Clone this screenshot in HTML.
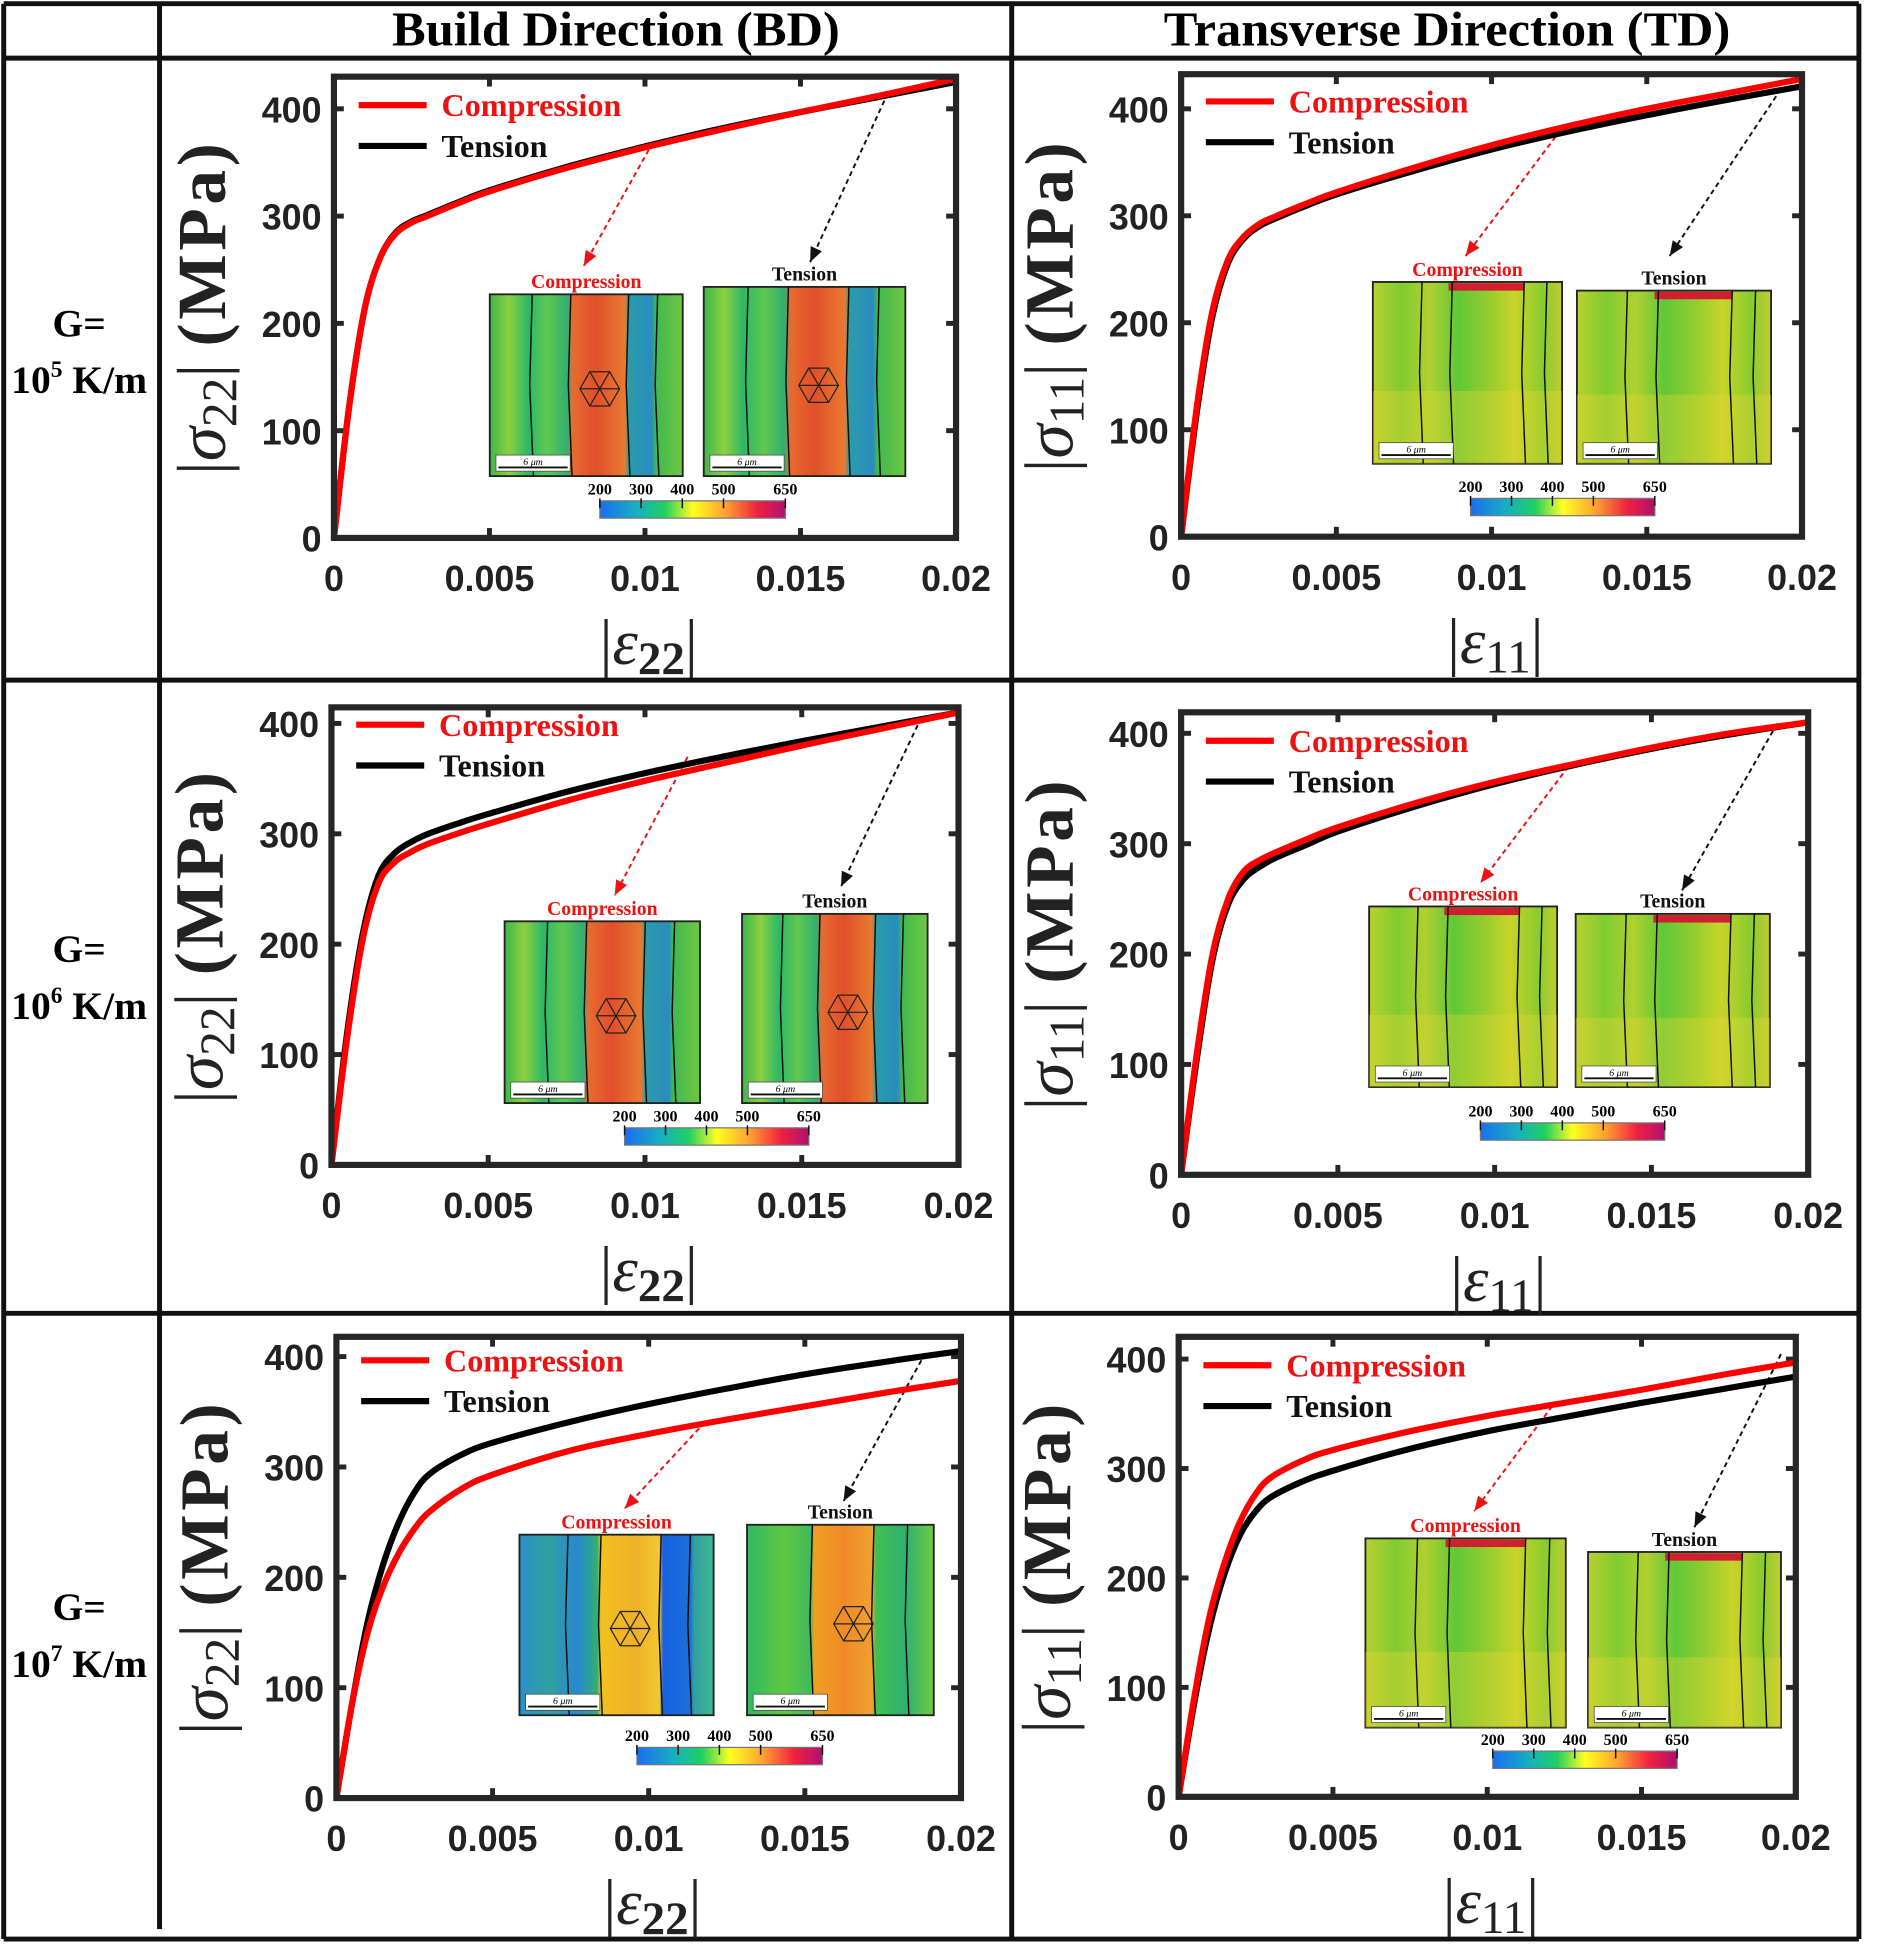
<!DOCTYPE html>
<html><head><meta charset="utf-8">
<style>
html,body{margin:0;padding:0;background:#fff;}
svg{display:block;}
.tk{font-family:"Liberation Sans",sans-serif;font-weight:bold;font-size:29px;fill:#222;}
.sf{font-family:"Liberation Serif",serif;font-weight:bold;}
</style></head>
<body>
<svg id="fig" xmlns="http://www.w3.org/2000/svg" width="1896" height="1944" viewBox="0 0 1533 1572" preserveAspectRatio="none">
<defs>
<linearGradient id="cbar" x1="0" x2="1" y1="0" y2="0">
<stop offset="0" stop-color="#1a6ef0"/><stop offset="0.2" stop-color="#17b0c0"/><stop offset="0.35" stop-color="#20d060"/><stop offset="0.5" stop-color="#ffff20"/><stop offset="0.68" stop-color="#ffa030"/><stop offset="0.85" stop-color="#f02040"/><stop offset="1" stop-color="#b01070"/>
</linearGradient>
</defs>
<g id="grid" stroke="#111" stroke-width="4" fill="none">
<line x1="3" y1="3" x2="1503" y2="3"/>
<line x1="3" y1="47" x2="1503" y2="47"/>
<line x1="3" y1="550" x2="1503" y2="550"/>
<line x1="3" y1="1062" x2="1503" y2="1062"/>
<line x1="3" y1="1568" x2="1503" y2="1568"/>
<line x1="3" y1="3" x2="3" y2="1568"/>
<line x1="129" y1="3" x2="129" y2="1560"/>
<line x1="818" y1="3" x2="818" y2="1568"/>
<line x1="1503" y1="3" x2="1503" y2="1568"/>
</g>
<text class="sf" x="498" y="37" font-size="39" text-anchor="middle" textLength="362" lengthAdjust="spacingAndGlyphs">Build Direction (BD)</text>
<text class="sf" x="1170" y="37" font-size="39" text-anchor="middle" textLength="458" lengthAdjust="spacingAndGlyphs">Transverse Direction (TD)</text>
<g class="sf" font-size="32" text-anchor="middle">
<text x="64" y="272">G=</text><text x="64" y="318">10<tspan font-size="19" dy="-13">5</tspan><tspan dy="13"> K/m</tspan></text></g>
<g class="sf" font-size="32" text-anchor="middle">
<text x="64" y="778">G=</text><text x="64" y="824">10<tspan font-size="19" dy="-13">6</tspan><tspan dy="13"> K/m</tspan></text></g>
<g class="sf" font-size="32" text-anchor="middle">
<text x="64" y="1310">G=</text><text x="64" y="1356">10<tspan font-size="19" dy="-13">7</tspan><tspan dy="13"> K/m</tspan></text></g>
</svg>
<script>
// shared strain grid
const strain = [0,0.0005,0.001,0.0015,0.002,0.0025,0.003,0.004,0.005,0.0075,0.01,0.0125,0.015,0.0175,0.02];
const xTicks = [0,0.005,0.01,0.015,0.02];
const xTickLabels = ["0","0.005","0.01","0.015","0.02"];
const yTicks = [0,100,200,300,400];
const cbarTicks = [200,300,400,500,650];
// stress series per panel
const bd1Comp = [0,125,215,262,284,294,300,312,323,345,364,381,397,412,428];
const bd1Tens = [0,125,215,262,285,295,301,313,324,346,365,382,397,411,425];
const td1Comp = [0,120,210,258,280,292,299,311,322,345,366,384,400,414,428];
const td1Tens = [0,115,205,255,278,290,297,309,320,342,362,379,394,408,421];
const bd2Comp = [0,115,205,255,274,283,290,300,309,330,348,364,380,395,410];
const bd2Tens = [0,120,210,262,282,292,299,309,318,338,355,370,384,397,410];
const td2Comp = [0,110,200,250,275,285,292,304,315,337,356,372,387,400,410];
const td2Tens = [0,105,195,245,268,279,287,299,311,334,354,371,386,399,410];
const bd3Comp = [0,85,150,192,222,244,260,280,293,315,330,343,355,367,378];
const bd3Tens = [0,85,160,212,250,277,294,311,322,341,357,371,384,395,405];
const td3Comp = [0,90,165,215,252,277,292,307,317,334,348,360,372,385,397];
const td3Tens = [0,85,155,205,240,261,274,288,298,318,334,347,360,372,384];

const NS="http://www.w3.org/2000/svg";
const svg=document.getElementById('fig');
function el(tag,attrs,parent){const e=document.createElementNS(NS,tag);for(const k in attrs)e.setAttribute(k,attrs[k]);(parent||svg).appendChild(e);return e;}

const panels=[
 {id:'bd1',L:270,R:773,T:62,y0:435,y400:88,sub:'22',comp:bd1Comp,tens:bd1Tens,legY:85,bd:true,
  maps:[{x:396,y:238,w:156,h:147,label:'Compression',t:'bdA'},{x:569,y:232,w:163,h:153,label:'Tension',t:'bdA'}],
  cb:[485,405,150],arR:[528,115,472,215],arB:[718,75,655,212]},
 {id:'td1',L:955,R:1457,T:60,y0:434,y400:88,sub:'11',comp:td1Comp,tens:td1Tens,legY:82,bd:false,
  maps:[{x:1110,y:228,w:153,h:147,label:'Compression',t:'td'},{x:1275,y:235,w:157,h:140,label:'Tension',t:'td'}],
  cb:[1189,403,149],arR:[1262,105,1185,207],arB:[1440,72,1350,207]},
 {id:'bd2',L:268,R:775,T:572,y0:942,y400:585,sub:'22',comp:bd2Comp,tens:bd2Tens,legY:586,bd:true,
  maps:[{x:408,y:745,w:158,h:147,label:'Compression',t:'bdA'},{x:600,y:739,w:150,h:153,label:'Tension',t:'bdA'}],
  cb:[505,912,149],arR:[556,612,497,724],arB:[745,580,680,717]},
 {id:'td2',L:955,R:1462,T:576,y0:950,y400:593,sub:'11',comp:td2Comp,tens:td2Tens,legY:599,bd:false,
  maps:[{x:1107,y:733,w:152,h:146,label:'Compression',t:'td'},{x:1274,y:739,w:157,h:140,label:'Tension',t:'td'}],
  cb:[1197,908,149],arR:[1268,620,1197,714],arB:[1437,585,1360,720]},
 {id:'bd3',L:272,R:777,T:1081,y0:1454,y400:1097,sub:'22',comp:bd3Comp,tens:bd3Tens,legY:1100,bd:true,
  maps:[{x:420,y:1241,w:157,h:146,label:'Compression',t:'bdC'},{x:604,y:1233,w:151,h:154,label:'Tension',t:'bdT'}],
  cb:[515,1413,150],arR:[570,1150,505,1220],arB:[745,1100,682,1214]},
 {id:'td3',L:953,R:1452,T:1081,y0:1453,y400:1099,sub:'11',comp:td3Comp,tens:td3Tens,legY:1104,bd:false,
  maps:[{x:1104,y:1244,w:162,h:153,label:'Compression',t:'td'},{x:1284,y:1255,w:156,h:142,label:'Tension',t:'td'}],
  cb:[1207,1416,149],arR:[1255,1137,1192,1222],arB:[1440,1095,1370,1235]}
];

const mapStops={
 bdA:[[0,'#3cb84a'],[0.1,'#8cd040'],[0.2,'#2cb868'],[0.3,'#60c850'],[0.4,'#30b070'],[0.43,'#e86a30'],[0.55,'#e0502a'],[0.7,'#e87a30'],[0.72,'#2a9ca8'],[0.84,'#2a8cc0'],[0.86,'#40b850'],[1,'#70c840']],
 bdC:[[0,'#2a90c8'],[0.15,'#30a0a0'],[0.3,'#2888d0'],[0.4,'#30b070'],[0.42,'#f2c020'],[0.6,'#f0b028'],[0.72,'#f2c830'],[0.74,'#1860e0'],[0.88,'#1a70d8'],[0.9,'#30a0a0'],[1,'#40b890']],
 bdT:[[0,'#30b860'],[0.2,'#60c840'],[0.34,'#40b860'],[0.36,'#f0a020'],[0.52,'#f08a28'],[0.67,'#f0a030'],[0.69,'#40c050'],[0.85,'#30b070'],[1,'#70c840']],
 td:[[0,'#b8d030'],[0.15,'#80cc30'],[0.3,'#b0d030'],[0.45,'#60c838'],[0.6,'#90cc30'],[0.75,'#c8d428'],[0.9,'#88cc30'],[1,'#c0cc30']]
};

function smoothPath(pts){
 let d='M'+pts[0][0]+','+pts[0][1];
 for(let i=0;i<pts.length-1;i++){
  const p0=pts[Math.max(0,i-1)],p1=pts[i],p2=pts[i+1],p3=pts[Math.min(pts.length-1,i+2)];
  const c1x=p1[0]+(p2[0]-p0[0])/6,c1y=p1[1]+(p2[1]-p0[1])/6;
  const c2x=p2[0]-(p3[0]-p1[0])/6,c2y=p2[1]-(p3[1]-p1[1])/6;
  d+=' C'+c1x.toFixed(1)+','+c1y.toFixed(1)+' '+c2x.toFixed(1)+','+c2y.toFixed(1)+' '+p2[0].toFixed(1)+','+p2[1].toFixed(1);
 }
 return d;
}

let gid=0;
panels.forEach(P=>{
 const g=el('g',{});
 
 
 const xs=v=>P.L+(v/0.02)*(P.R-P.L);
 const ys=v=>P.y0-(v/400)*(P.y0-P.y400);
 xTicks.forEach((t,i)=>{
  const x=xs(t);
  const tk=el('line',{x1:x,x2:x,y1:P.y0,y2:P.y0-8,stroke:'#262626','stroke-width':4},g);
  
  
  el('line',{x1:x,x2:x,y1:P.T,y2:P.T+8,stroke:'#262626','stroke-width':4},g);
  const lb=el('text',{x:x,y:P.y0+43,'text-anchor':'middle',class:'tk'},g);
  
  
  lb.textContent=xTickLabels[i];
 });
 yTicks.forEach(t=>{
  const y=ys(t);
  el('line',{x1:P.L,x2:P.L+8,y1:y,y2:y,stroke:'#262626','stroke-width':4},g);
  el('line',{x1:P.R,x2:P.R-8,y1:y,y2:y,stroke:'#262626','stroke-width':4},g);
  const lb=el('text',{x:P.L-10,y:y+11,'text-anchor':'end',class:'tk'},g);
  
  
  lb.textContent=String(t);
 });
 const xl=el('text',{x:(P.L+xs(0.02))/2+3,y:P.y0+102,'text-anchor':'middle','font-family':'"Liberation Serif",serif','font-size':52,fill:'#222'},g);
 
 
 xl.innerHTML='|<tspan font-style="italic">ε</tspan><tspan font-size="38" dy="8" font-weight="'+(P.bd?'bold':'normal')+'">'+P.sub+'</tspan><tspan dy="-8">|</tspan>';
 const cy=(P.T+P.y0)/2;
 const yl=el('text',{x:0,y:0,'text-anchor':'middle','font-family':'"Liberation Serif",serif','font-size':56,fill:'#222',transform:'translate('+(P.L-88)+','+cy+') rotate(-90)'},g);
 
 
 yl.innerHTML='|<tspan font-style="italic">σ</tspan><tspan font-size="40" dy="9">'+P.sub+'</tspan><tspan dy="-9">|  </tspan><tspan font-weight="bold" letter-spacing="3">(MPa)</tspan>';
 P.maps.forEach((m,k)=>{
  gid++;
  const gr=el('linearGradient',{id:'mg'+gid,x1:0,x2:1,y1:0,y2:0},svg.querySelector('defs'));
  mapStops[m.t].forEach(s=>el('stop',{offset:s[0],'stop-color':s[1]},gr));
  const mg=el('g',{},g);
  
  
  el('rect',{x:m.x,y:m.y,width:m.w,height:m.h,fill:'url(#mg'+gid+')',stroke:'#222','stroke-width':1.5},mg);
  if(m.t==='td'){
   el('rect',{x:m.x+m.w*0.4,y:m.y+1,width:m.w*0.4,height:6,fill:'#d02030'},mg);
   el('rect',{x:m.x,y:m.y+m.h*0.6,width:m.w,height:m.h*0.4,fill:'#e8d830',opacity:0.35},mg);
  }
  const bnd=m.t==='td'?[0.26,0.42,0.8,0.92]:(m.t==='bdA'?[0.22,0.42,0.72,0.87]:(m.t==='bdT'?[0.35,0.68,0.86]:[0.25,0.42,0.73,0.88]));
  bnd.forEach(f=>{const x=m.x+m.w*f;el('path',{d:'M'+x+','+m.y+' L'+(x-2)+','+(m.y+m.h*0.5)+' L'+(x+1)+','+(m.y+m.h),stroke:'#111','stroke-width':1.2,fill:'none'},mg);});
  el('rect',{x:m.x+5,y:m.y+m.h-17,width:60,height:13,fill:'#fff',stroke:'#444','stroke-width':0.6},mg);
  el('line',{x1:m.x+7,x2:m.x+63,y1:m.y+m.h-7,y2:m.y+m.h-7,stroke:'#111','stroke-width':1.5},mg);
  const sb=el('text',{x:m.x+35,y:m.y+m.h-9,'text-anchor':'middle','font-family':'"Liberation Serif",serif','font-size':8,'font-style':'italic'},mg);
  sb.textContent='6 μm';
  if(P.bd){
   const cx=m.x+m.w*0.57, hy=m.y+m.h*0.52, r=16;
   let d='';for(let a=0;a<6;a++){const an=a*Math.PI/3;d+=(a?'L':'M')+(cx+r*Math.cos(an)).toFixed(1)+','+(hy+r*Math.sin(an)).toFixed(1);}d+='Z';
   for(let a=0;a<3;a++){const an=a*Math.PI/3;d+=' M'+(cx+r*Math.cos(an)).toFixed(1)+','+(hy+r*Math.sin(an)).toFixed(1)+' L'+(cx-r*Math.cos(an)).toFixed(1)+','+(hy-r*Math.sin(an)).toFixed(1);}
   el('path',{d:d,stroke:'#222','stroke-width':1,fill:'none'},mg);
  }
  const lt=el('text',{x:m.x+m.w/2,y:m.y-5,'text-anchor':'middle',class:'sf','font-size':16,fill:k===0?'#ee1111':'#111'},mg);
  
  
  lt.textContent=m.label;
 });
 const [cx0,cy0,cw]=P.cb;
 const cb=el('g',{},g);
 
 
 el('rect',{x:cx0,y:cy0,width:cw,height:14,fill:'url(#cbar)',stroke:'#777','stroke-width':1},cb);
 cbarTicks.forEach(v=>{const x=cx0+(v-200)/450*cw;
  el('line',{x1:x,x2:x,y1:cy0-2,y2:cy0+6,stroke:'#111','stroke-width':1.2},cb);
  const t=el('text',{x:x,y:cy0-5,'text-anchor':'middle',class:'sf','font-size':13},cb);t.textContent=String(v);});
 [[P.arR,'#ee1111','arrow-compression'],[P.arB,'#111','arrow-tension']].forEach(a=>{
  const [x1,y1,x2,y2]=a[0];
  const ag=el('g',{},g);
  
  
  el('line',{x1:x1,y1:y1,x2:x2,y2:y2,stroke:a[1],'stroke-width':1.6,'stroke-dasharray':'4,3'},ag);
  const ang=Math.atan2(y2-y1,x2-x1),L=12,W=5;
  const bx=x2-L*Math.cos(ang),by=y2-L*Math.sin(ang);
  el('path',{d:'M'+x2+','+y2+' L'+(bx+W*Math.sin(ang))+','+(by-W*Math.cos(ang))+' L'+(bx-W*Math.sin(ang))+','+(by+W*Math.cos(ang))+'Z',fill:a[1]},ag);
 });
 const tp=strain.map((s,i)=>[xs(s),ys(P.tens[i])]);
 const cp=strain.map((s,i)=>[xs(s),ys(P.comp[i])]);
 const tl=el('path',{d:smoothPath(tp),stroke:'#000','stroke-width':5,fill:'none','stroke-linejoin':'round'},g);
 
 
 const cl=el('path',{d:smoothPath(cp),stroke:'#ff0000','stroke-width':5,fill:'none','stroke-linejoin':'round'},g);
 
 
 const bx=el('rect',{x:P.L,y:P.T,width:P.R-P.L,height:P.y0-P.T,fill:'none',stroke:'#262626','stroke-width':5},g);
 
 
 const lg=el('g',{},g);
 
 
 el('line',{x1:P.L+20,x2:P.L+75,y1:P.legY,y2:P.legY,stroke:'#ff0000','stroke-width':5},lg);
 const c1=el('text',{x:P.L+87,y:P.legY+9,class:'sf','font-size':26,fill:'#ee1111'},lg);
 
 
 c1.textContent='Compression';
 el('line',{x1:P.L+20,x2:P.L+75,y1:P.legY+33,y2:P.legY+33,stroke:'#000','stroke-width':5},lg);
 const c2=el('text',{x:P.L+87,y:P.legY+42,class:'sf','font-size':26,fill:'#111'},lg);
 
 
 c2.textContent='Tension';
});
</script>
</body></html>
